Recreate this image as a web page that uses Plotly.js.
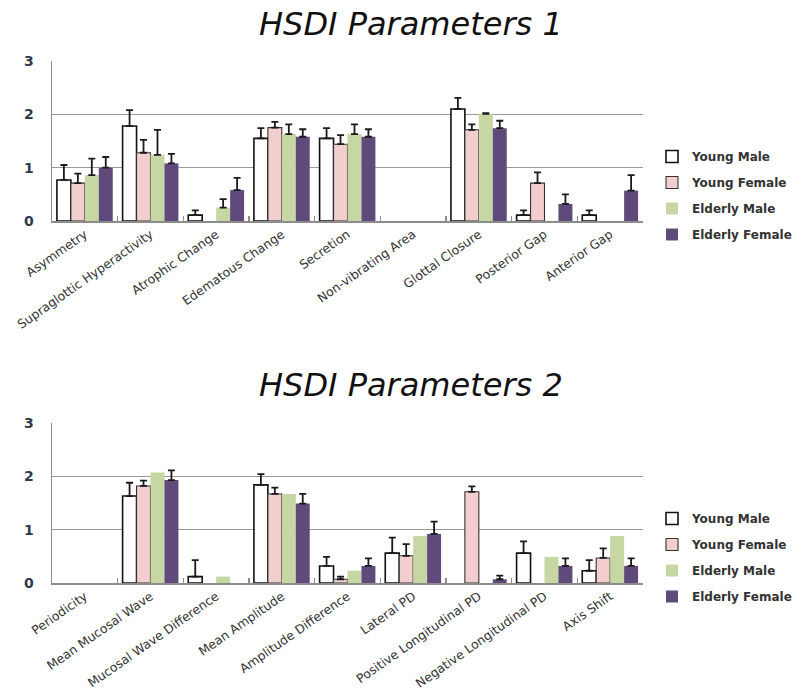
<!DOCTYPE html>
<html>
<head>
<meta charset="utf-8">
<script src="https://cdn.plot.ly/plotly-3.0.1.min.js"></script>
<style>html,body{margin:0;padding:0;background:#fff;}#chart{width:808px;height:697px;}</style>
</head>
<body>
<div id="chart"></div>
<script>
// ---- Data: HSDI Parameters 1 ----
const categories1 = ["Asymmetry", "Supraglottic Hyperactivity", "Atrophic Change", "Edematous Change", "Secretion", "Non-vibrating Area", "Glottal Closure", "Posterior Gap", "Anterior Gap"];
const youngMale1 = [0.77, 1.78, 0.11, 1.55, 1.55, null, 2.10, 0.11, 0.11];
const youngMale1Err = [0.28, 0.30, 0.09, 0.19, 0.19, null, 0.21, 0.09, 0.09];
const youngFemale1 = [0.71, 1.28, null, 1.75, 1.44, null, 1.71, 0.71, null];
const youngFemale1Err = [0.18, 0.24, null, 0.11, 0.17, null, 0.10, 0.20, null];
const elderlyMale1 = [0.86, 1.24, 0.25, 1.63, 1.63, null, 2.01, null, null];
const elderlyMale1Err = [0.31, 0.47, 0.16, 0.18, 0.18, null, 0.01, null, null];
const elderlyFemale1 = [1.00, 1.08, 0.58, 1.58, 1.58, null, 1.74, 0.32, 0.57];
const elderlyFemale1Err = [0.20, 0.18, 0.23, 0.14, 0.14, null, 0.14, 0.18, 0.29];

// ---- Data: HSDI Parameters 2 ----
const categories2 = ["Periodicity", "Mean Mucosal Wave", "Mucosal Wave Difference", "Mean Amplitude", "Amplitude Difference", "Lateral PD", "Positive Longitudinal PD", "Negative Longitudinal PD", "Axis Shift"];
const youngMale2 = [null, 1.63, 0.12, 1.84, 0.32, 0.56, null, 0.56, 0.23];
const youngMale2Err = [null, 0.25, 0.31, 0.20, 0.17, 0.29, null, 0.22, 0.20];
const youngFemale2 = [null, 1.82, null, 1.67, 0.07, 0.51, 1.71, null, 0.47];
const youngFemale2Err = [null, 0.10, null, 0.12, 0.05, 0.22, 0.10, null, 0.18];
const elderlyMale2 = [null, 2.07, 0.12, 1.67, 0.23, 0.88, null, 0.49, 0.88];
const elderlyFemale2 = [null, 1.93, null, 1.49, 0.32, 0.92, 0.07, 0.32, 0.32];
const elderlyFemale2Err = [null, 0.18, null, 0.18, 0.14, 0.23, 0.07, 0.14, 0.14];

const seriesNames = ["Young Male", "Young Female", "Elderly Male", "Elderly Female"];
const yTicks = [0, 1, 2, 3];

// ---- Styles ----
const fills = ["#ffffff", "#f2cfce", "#c6d7a3", "#604a7b"];
const lines = [{color: "#111", width: 1.6}, {color: "#333", width: 1.1}, {color: "#c6d7a3", width: 0}, {color: "#604a7b", width: 0}];
const FONT = "DejaVu Sans, sans-serif";

function mkTrace(i, x, y, err, xa, ya, leg) {
  const t = {
    type: "bar", name: seriesNames[i], x: x, y: y,
    xaxis: xa, yaxis: ya, legend: leg, legendgroup: leg + i,
    marker: {color: fills[i], line: lines[i]},
    hoverinfo: "x+y+name"
  };
  if (err) {
    t.error_y = {type: "data", symmetric: false, array: err, arrayminus: err.map(() => 0),
      color: "#1a1a1a", thickness: 1.8, width: 3.5, visible: true};
  }
  return t;
}

const data = [
  mkTrace(0, categories1, youngMale1, youngMale1Err, "x", "y", "legend"),
  mkTrace(1, categories1, youngFemale1, youngFemale1Err, "x", "y", "legend"),
  mkTrace(2, categories1, elderlyMale1, elderlyMale1Err, "x", "y", "legend"),
  mkTrace(3, categories1, elderlyFemale1, elderlyFemale1Err, "x", "y", "legend"),
  mkTrace(0, categories2, youngMale2, youngMale2Err, "x2", "y2", "legend2"),
  mkTrace(1, categories2, youngFemale2, youngFemale2Err, "x2", "y2", "legend2"),
  mkTrace(2, categories2, elderlyMale2, null, "x2", "y2", "legend2"),
  mkTrace(3, categories2, elderlyFemale2, elderlyFemale2Err, "x2", "y2", "legend2")
];

const W = 808, H = 697;
const xDom = [52 / W, 643 / W];

function xAxis() {
  return {
    type: "category", domain: xDom, tickson: "boundaries", ticks: "inside", ticklen: 5,
    tickcolor: "#8c8c8c", tickwidth: 1.2, showline: true, linecolor: "#8c8c8c", linewidth: 1.5,
    showgrid: false, tickangle: -35, automargin: false, fixedrange: true,
    tickfont: {family: FONT, size: 12.4, color: "#333"}
  };
}
function yAxis(domPx) {
  return {
    domain: [(H - domPx[1]) / H, (H - domPx[0]) / H], range: [0, 3], tickvals: yTicks,
    showgrid: true, gridcolor: "#9a9a9a", gridwidth: 1.3, zeroline: false,
    showline: true, linecolor: "#8c8c8c", linewidth: 1.5, ticks: "", ticklabelstandoff: 14,
    automargin: false, fixedrange: true,
    tickfont: {family: FONT, size: 14, color: "#2e3a4f", weight: "bold"}
  };
}
function legendAt(topPx) {
  return {
    x: 652 / W, xanchor: "left", y: (H - topPx) / H, yanchor: "top",
    bgcolor: "rgba(0,0,0,0)", itemwidth: 30, traceorder: "grouped", tracegroupgap: 7,
    font: {family: FONT, size: 12, color: "#333", weight: "bold"}
  };
}

const layout = {
  width: W, height: H, margin: {l: 0, r: 0, t: 0, b: 0},
  paper_bgcolor: "#fff", plot_bgcolor: "#fff", showlegend: true,
  barmode: "group", bargap: 0.15, bargroupgap: 0,
  xaxis: Object.assign(xAxis(), {anchor: "y"}),
  yaxis: Object.assign(yAxis([61, 221]), {anchor: "x"}),
  xaxis2: Object.assign(xAxis(), {anchor: "y2"}),
  yaxis2: Object.assign(yAxis([423, 583]), {anchor: "x2"}),
  legend: legendAt(142),
  legend2: legendAt(504),
  annotations: [
    {text: "HSDI Parameters 1", xref: "paper", yref: "paper", x: 411 / W, y: (H - 24) / H,
     xanchor: "center", yanchor: "middle", showarrow: false,
     font: {family: FONT, size: 32, color: "#111", style: "italic"}},
    {text: "HSDI Parameters 2", xref: "paper", yref: "paper", x: 411 / W, y: (H - 385) / H,
     xanchor: "center", yanchor: "middle", showarrow: false,
     font: {family: FONT, size: 32, color: "#111", style: "italic"}}
  ]
};

Plotly.newPlot("chart", data, layout, {displayModeBar: false, staticPlot: true});
</script>
</body>
</html>
